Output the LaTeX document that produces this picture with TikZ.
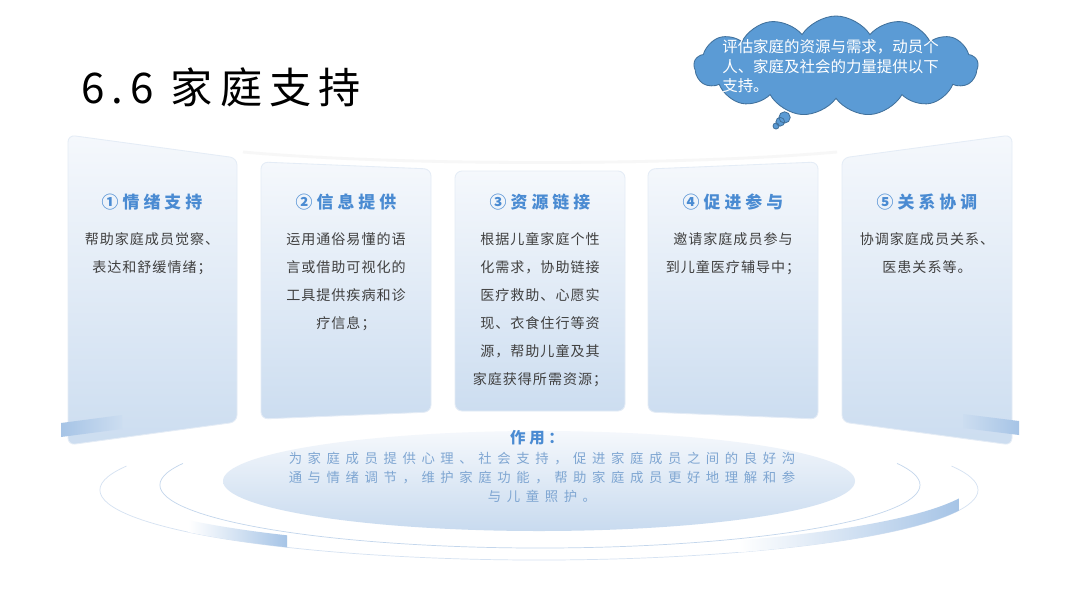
\documentclass[tikz,border=0pt]{standalone}
\usepackage{fontspec}
\setmainfont{Noto Sans CJK SC}
\newfontfamily\titlefont[LetterSpace=17]{Noto Sans CJK SC}
\newfontfamily\headfont[LetterSpace=24]{Noto Sans CJK SC}
\newfontfamily\bodyfont[LetterSpace=7]{Noto Sans CJK SC}
\newfontfamily\widefont[LetterSpace=42]{Noto Sans CJK SC}
\usepackage{tikz}
\usetikzlibrary{calc, shapes.symbols, shapes.callouts}

\definecolor{cloudfill}{HTML}{5B9BD5}
\definecolor{cloudline}{HTML}{41719C}
\definecolor{headblue}{HTML}{4A8BD2}
\definecolor{bodygray}{HTML}{404040}
\definecolor{paneltop}{HTML}{F5F8FC}
\definecolor{panelbot}{HTML}{CCDDF0}
\definecolor{panelline}{HTML}{E4ECF6}
\definecolor{bandblue}{HTML}{A6C4E6}
\definecolor{ringline}{HTML}{C3D6EC}
\definecolor{usetext}{HTML}{7FA6D2}

\begin{document}
\begin{tikzpicture}[
        x=0.25mm, y=-0.25mm,
        panel/.style={draw=panelline, line width=0.6pt, top color=paneltop,
            bottom color=panelbot, rounded corners=5pt},
        head/.style={font=\headfont\bfseries\fontsize{12}{14}\selectfont,
            text=headblue, inner sep=0pt},
        body/.style={font=\bodyfont\fontsize{10}{20}\selectfont, text=bodygray,
            align=center, anchor=north, inner sep=0pt},
        band/.style={left color=white, right color=bandblue},
        ring/.style={draw=ringline, line width=0.5pt}
    ]
    \fill[white] (0,0) rectangle (1080,608);
    \useasboundingbox (0,0) rectangle (1080,608);

    % stage rings
    \draw[ring, draw=ringline!70] (539,490) ++(200:439 and 70)
        arc[start angle=200, end angle=-20, x radius=439, y radius=70];
    \draw[ring] (540,485) ++(200:380 and 63)
        arc[start angle=200, end angle=-20, x radius=380, y radius=63];
    \shade[band] ($(539,490)+(143:439 and 70)$)
        arc[start angle=143, end angle=125, x radius=439, y radius=70]
        -- ++(0,-12) arc[start angle=125, end angle=143, x radius=439, y radius=70] -- cycle;
    \shade[band] ($(539,490)+(63:439 and 70)$)
        arc[start angle=63, end angle=17, x radius=439, y radius=70]
        -- ++(0,-12) arc[start angle=17, end angle=63, x radius=439, y radius=70] -- cycle;
    \shade[top color=paneltop, bottom color=panelbot!90!bandblue]
        (539,481) ellipse[x radius=316, y radius=50];

    % faint arc behind the panels
    \draw[black!3, line width=2pt] (243,152) .. controls (400,166) and (680,166) .. (837,152);

    % panels
    \draw[panel] (68,135) -- (237,158) -- (237,422) -- (68,445) -- cycle;
    \draw[panel] (261,162) -- (431,169) -- (431,412) -- (261,419) -- cycle;
    \draw[panel] (455,171) -- (625,171) -- (625,411) -- (455,411) -- cycle;
    \draw[panel] (648,169) -- (818,162) -- (818,419) -- (648,412) -- cycle;
    \draw[panel] (842,158) -- (1012,135) -- (1012,445) -- (842,422) -- cycle;
    \shade[left color=bandblue, right color=panelbot] (61,423) -- (122,415) -- (122,429) -- (61,437) -- cycle;
    \shade[left color=panelbot, right color=bandblue] (963,414) -- (1019,421) -- (1019,435) -- (963,428) -- cycle;

    % title and cloud
    \node[font=\titlefont\fontsize{30}{36}\selectfont, anchor=base west, inner sep=0pt]
        (title) at (81,103) {6.6 家庭支持};
    \node[cloud callout, cloud puffs=13, cloud puff arc=115, cloud ignores aspect,
        draw=cloudline, fill=cloudfill, line width=0.6pt,
        minimum width=71mm, minimum height=25mm,
        callout absolute pointer={(776,126)},
        callout pointer start size=3.5mm and 3.5mm,
        callout pointer end size=1.5mm and 1.5mm,
        callout pointer segments=3] (cloud) at (836,66) {};
    \node[font=\fontsize{11}{14}\selectfont, text=white, align=left, anchor=north west,
        inner sep=0pt] (cloudtxt) at (722,39)
        {评估家庭的资源与需求，动员个\\人、家庭及社会的力量提供以下\\支持。};

    % headings and texts
    \node[head] (h1) at (152,202) {①情绪支持};
    \node[head] (h2) at (346,202) {②信息提供};
    \node[head] (h3) at (540,202) {③资源链接};
    \node[head] (h4) at (733,202) {④促进参与};
    \node[head] (h5) at (927,202) {⑤关系协调};

    \node[body] (t1) at (152,232) {帮助家庭成员觉察、\\表达和舒缓情绪；};
    \node[body] (t2) at (346,232) {运用通俗易懂的语\\言或借助可视化的\\工具提供疾病和诊\\疗信息；};
    \node[body] (t3) at (540,232) {根据儿童家庭个性\\化需求，协助链接\\医疗救助、心愿实\\现、衣食住行等资\\源，帮助儿童及其\\家庭获得所需资源；};
    \node[body] (t4) at (733,232) {邀请家庭成员参与\\到儿童医疗辅导中；};
    \node[body] (t5) at (927,232) {协调家庭成员关系、\\医患关系等。};

    \node[head, font=\headfont\bfseries\fontsize{11}{13}\selectfont] (usehead) at (537,438) {作用：};
    \node[font=\widefont\fontsize{9.5}{13.5}\selectfont, text=usetext, align=center,
        anchor=north, inner sep=0pt] (usetxt) at (542,452)
        {为家庭成员提供心理、社会支持，促进家庭成员之间的良好沟\\通与情绪调节，维护家庭功能，帮助家庭成员更好地理解和参\\与儿童照护。};
\end{tikzpicture}
\end{document}
